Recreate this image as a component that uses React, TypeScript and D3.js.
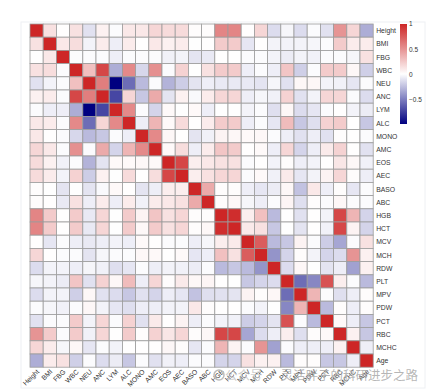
import React, { useRef, useEffect } from 'react';
import * as d3 from 'd3';

// variable order as shown (rows top→bottom, columns left→right)
const vars = ['Height', 'BMI', 'FBG', 'WBC', 'NEU', 'ANC', 'LYM', 'ALC', 'MONO', 'AMC', 'EOS', 'AEC', 'BASO', 'ABC',
  'HGB', 'HCT', 'MCV', 'MCH', 'RDW', 'PLT', 'MPV', 'PDW', 'PCT', 'RBC', 'MCHC', 'Age'];

// upper triangle of the correlation matrix, row i holds r(i, j) for j > i
const upperTri: number[][] = [
  [0.15, 0.02, 0.15, -0.1, 0.08, 0.0, 0.12, 0.12, 0.2, 0.18, 0.18, 0.03, 0.03, 0.57, 0.57, 0.02, 0.2, -0.12, -0.02, -0.12, 0.0, -0.1, 0.5, 0.2, -0.3],
  [0.12, 0.17, -0.03, 0.1, -0.05, 0.1, 0.02, 0.12, 0.08, 0.1, 0.01, 0.02, 0.25, 0.25, -0.08, 0.02, -0.03, -0.03, -0.03, -0.02, 0.0, 0.25, 0.1, 0.1],
  [0.0, 0.0, 0.0, -0.05, 0.0, 0.0, 0.0, -0.04, -0.03, -0.09, -0.07, 0.02, 0.02, 0.0, 0.0, -0.03, -0.06, -0.03, -0.04, 0.0, 0.0, -0.02, 0.15],
  [0.3, 0.85, -0.3, 0.55, -0.14, 0.52, 0.0, 0.22, 0.01, 0.15, 0.25, 0.25, -0.05, 0.0, -0.05, 0.28, -0.17, 0.0, 0.25, 0.25, 0.05, -0.17],
  [0.6, -0.97, -0.55, -0.25, 0.0, -0.28, -0.18, -0.09, -0.05, -0.07, -0.07, -0.07, -0.09, -0.02, -0.1, 0.05, 0.05, -0.03, -0.04, -0.08, 0.0],
  [-0.7, 0.2, -0.2, 0.4, -0.09, 0.08, -0.01, 0.1, 0.2, 0.2, -0.05, -0.02, -0.04, 0.22, -0.1, -0.03, 0.2, 0.2, 0.0, -0.12],
  [0.55, 0.0, -0.15, 0.04, 0.01, 0.04, -0.05, 0.01, 0.01, -0.03, 0.0, -0.11, 0.05, -0.12, -0.08, 0.0, 0.02, -0.03, -0.06],
  [-0.05, 0.35, 0.04, 0.18, 0.02, 0.1, 0.25, 0.25, -0.05, 0.0, -0.08, 0.32, -0.2, -0.11, 0.22, 0.25, 0.02, -0.2],
  [0.55, 0.05, 0.02, -0.09, -0.04, 0.07, 0.05, 0.04, 0.05, 0.0, -0.05, -0.1, -0.05, -0.1, 0.03, 0.02, 0.0],
  [0.04, 0.17, -0.05, 0.1, 0.28, 0.25, 0.02, 0.04, -0.05, 0.2, -0.15, -0.05, 0.11, 0.22, 0.02, -0.1],
  [0.85, 0.09, 0.12, 0.15, 0.15, 0.0, 0.02, -0.03, 0.03, -0.05, -0.03, 0.02, 0.13, 0.05, -0.04],
  [0.09, 0.15, 0.2, 0.2, 0.0, 0.04, -0.04, 0.11, -0.08, -0.03, 0.07, 0.2, 0.03, -0.05],
  [0.4, 0.03, 0.03, -0.05, -0.08, -0.06, 0.05, -0.22, 0.12, -0.05, 0.03, -0.08, 0.0],
  [0.03, 0.05, -0.02, -0.05, 0.0, 0.06, -0.11, 0.03, 0.0, 0.05, 0.0, 0.0],
  [0.97, 0.09, 0.3, -0.25, 0.02, -0.1, 0.02, -0.03, 0.85, 0.35, -0.15],
  [0.11, 0.15, -0.2, 0.01, -0.09, 0.02, -0.04, 0.85, 0.07, -0.15],
  [0.75, -0.25, -0.2, 0.07, 0.0, -0.18, -0.33, 0.0, 0.15],
  [-0.4, -0.15, 0.03, -0.03, -0.15, -0.12, 0.5, 0.08],
  [-0.12, 0.05, 0.01, -0.09, -0.05, -0.35, 0.08],
  [-0.55, -0.45, 0.8, 0.09, 0.0, -0.25],
  [0.35, 0.0, -0.11, -0.05, 0.03],
  [-0.25, 0.03, -0.05, 0.03],
  [0.04, -0.05, -0.2],
  [0.08, -0.2],
  [-0.05],
  [],
];

const legendTicks = [1, 0.5, 0, -0.5];
const watermarkPrefix = '公众号 · ';
const watermarkText = '灵活胖子的科研进步之路';

const App = () => {
  const svgRef = useRef<SVGSVGElement>(null);
  const width = 432;
  const height = 392;

  useEffect(() => {
    const svg = d3.select(svgRef.current);
    svg.selectAll('*').remove();

    const n = vars.length;
    const cells: { row: number; col: number; v: number }[] = [];
    for (let i = 0; i < n; i++) {
      for (let j = 0; j < n; j++) {
        let v = 1;
        if (j > i) v = upperTri[i][j - i - 1];
        else if (j < i) v = upperTri[j][i - j - 1];
        cells.push({ row: i, col: j, v });
      }
    }

    const vMin = d3.min(cells, d => d.v) as number;
    const vMax = d3.max(cells, d => d.v) as number;
    const color = d3.scaleLinear<string>()
      .domain([vMin, (vMin + vMax) / 2, vMax])
      .range(['navy', 'white', '#CD2626'])
      .interpolate(d3.interpolateRgb);

    const cell = 13.2;
    const x = d3.scaleBand<number>().domain(d3.range(n)).range([30, 30 + cell * n]);
    const y = d3.scaleBand<number>().domain(d3.range(n)).range([24, 24 + cell * n]);

    // faint panel
    svg.append('rect')
      .attr('x', 21).attr('y', 22).attr('width', 404).attr('height', 366)
      .attr('fill', 'white').attr('stroke', '#eef0f3').attr('stroke-width', 1);

    svg.append('g')
      .selectAll('rect')
      .data(cells)
      .join('rect')
      .attr('x', d => x(d.col)!)
      .attr('y', d => y(d.row)!)
      .attr('width', x.bandwidth())
      .attr('height', y.bandwidth())
      .attr('fill', d => color(d.v))
      .attr('stroke', '#9c9c9c')
      .attr('stroke-width', 0.8);

    const font = "'Liberation Sans', Arial, sans-serif";

    // row labels
    svg.append('g')
      .selectAll('text')
      .data(vars)
      .join('text')
      .attr('x', 30 + cell * n + 3)
      .attr('y', (d, i) => y(i)! + y.bandwidth() / 2 + 2.5)
      .attr('font-family', font)
      .attr('font-size', 6.8)
      .attr('fill', '#333')
      .text(d => d);

    // column labels, rotated 45
    const yb = 24 + cell * n;
    svg.append('g')
      .selectAll('text')
      .data(vars)
      .join('text')
      .attr('transform', (d, i) => `translate(${x(i)! + x.bandwidth() / 2 + 3},${yb + 5}) rotate(-45)`)
      .attr('text-anchor', 'end')
      .attr('font-family', font)
      .attr('font-size', 6.8)
      .attr('fill', '#333')
      .text(d => d);

    // legend
    const lx = 400, ly0 = 24, ly1 = 124, lw = 7;
    const ly = d3.scaleLinear().domain([vMax, vMin]).range([ly0, ly1]);
    const defs = svg.append('defs');
    const grad = defs.append('linearGradient')
      .attr('id', 'legGrad').attr('x1', 0).attr('y1', 0).attr('x2', 0).attr('y2', 1);
    d3.range(0, 1.0001, 0.05).forEach(t => {
      grad.append('stop')
        .attr('offset', t)
        .attr('stop-color', color(vMax - t * (vMax - vMin)));
    });
    svg.append('rect')
      .attr('x', lx).attr('y', ly0).attr('width', lw).attr('height', ly1 - ly0)
      .attr('fill', 'url(#legGrad)');
    svg.append('g')
      .selectAll('text')
      .data(legendTicks)
      .join('text')
      .attr('x', lx + lw + 2)
      .attr('y', d => ly(d) + 2.3)
      .attr('font-family', font)
      .attr('font-size', 6.5)
      .attr('fill', '#333')
      .text(d => d3.format('')(d).replace('-', '\u2212'));

    // watermark
    const wm = svg.append('g');
    wm.append('circle').attr('cx', 219).attr('cy', 375).attr('r', 5)
      .attr('fill', 'none').attr('stroke', '#bdbdbd').attr('stroke-width', 1.5);
    const t = wm.append('text')
      .attr('x', 418).attr('y', 380)
      .attr('text-anchor', 'end')
      .attr('font-family', "'Noto Sans CJK SC', sans-serif")
      .attr('font-size', 12.5);
    t.append('tspan').attr('fill', '#c4c4c4').attr('fill-opacity', 0.85).text(watermarkPrefix);
    t.append('tspan').attr('fill', '#a9a9a9').attr('fill-opacity', 0.85).text(watermarkText);
  }, []);

  return (
    <div style={{ position: 'absolute', left: 0, top: 0, width, height, background: 'white' }}>
      <svg ref={svgRef} width={width} height={height} style={{ display: 'block' }} />
    </div>
  );
};

export default App;
